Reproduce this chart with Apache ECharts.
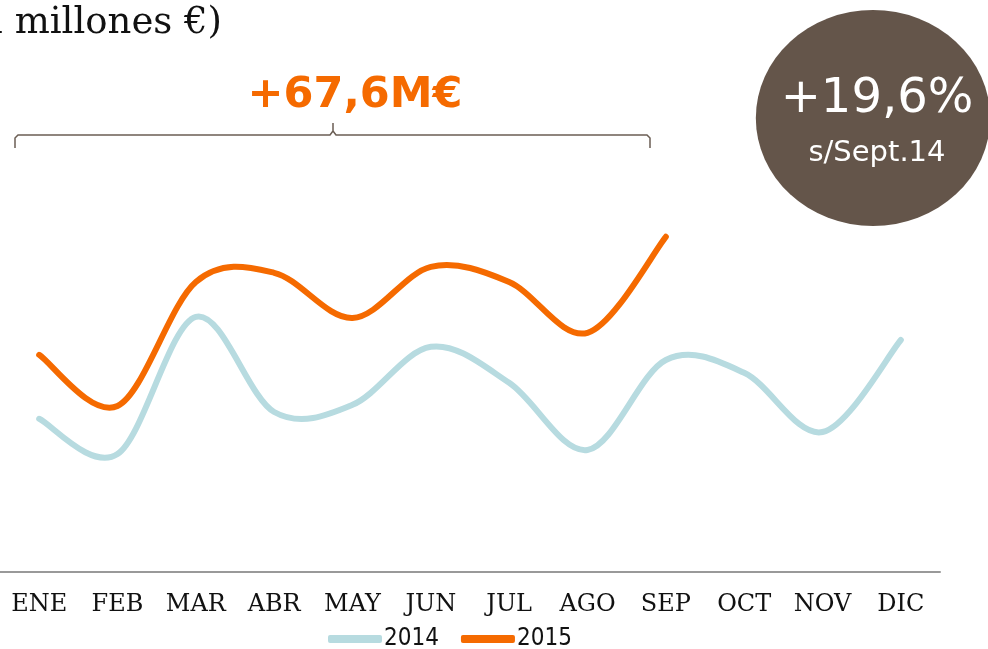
<!DOCTYPE html>
<html>
<head>
<meta charset="utf-8">
<script src="https://cdn.jsdelivr.net/npm/echarts@6/dist/echarts.min.js"></script>
<style>
  html, body { margin: 0; padding: 0; background: #fff; }
  #chart { width: 988px; height: 649px; }
</style>
</head>
<body>
<div id="chart"></div>
<script>
// months and monthly figures (scale, no axis labels shown)
const months = ['ENE', 'FEB', 'MAR', 'ABR', 'MAY', 'JUN', 'JUL', 'AGO', 'SEP', 'OCT', 'NOV', 'DIC'];
const seriesNames = ['2014', '2015'];
const values2014 = [38.3, 29.5, 63.8, 40.0, 41.8, 56.3, 47.3, 30.5, 53.0, 49.8, 35.0, 58.0];
const values2015 = [54.3, 41.5, 72.5, 74.8, 63.5, 76.3, 72.5, 59.8, 83.8];
const colors = ['#B7DBE0', '#F56A00'];

const chart = echarts.init(document.getElementById('chart'));

// excel-like smoothing (catmull-rom -> bezier), drawn once from the axis coords
let _smoothLine = function(values, color){
    return function(params, api){
        if (params.dataIndex !== 0) return null;
        let pts = values.map((v, i) => api.coord([i, v]));
        let d = 'M' + pts[0][0] + ' ' + pts[0][1];
        for (let i = 0; i < pts.length - 1; i++){
            let p0 = pts[Math.max(i - 1, 0)];
            let p1 = pts[i];
            let p2 = pts[i + 1];
            let p3 = pts[Math.min(i + 2, pts.length - 1)];
            let c1x = p1[0] + (p2[0] - p0[0]) / 6;
            let c1y = p1[1] + (p2[1] - p0[1]) / 6;
            let c2x = p2[0] - (p3[0] - p1[0]) / 6;
            let c2y = p2[1] - (p3[1] - p1[1]) / 6;
            d += ' C' + c1x + ' ' + c1y + ' ' + c2x + ' ' + c2y + ' ' + p2[0] + ' ' + p2[1];
        }
        return {
            type: 'path',
            shape: { pathData: d },
            style: { stroke: color, lineWidth: 6, fill: null, lineCap: 'round', lineJoin: 'round' }
        };
    };
};

let option = {
    animation: false,
    grid: { left: 0, right: 48, top: 172, bottom: 77, containLabel: false },
    xAxis: {
        type: 'category',
        data: months,
        boundaryGap: true,
        axisLine: { lineStyle: { color: '#999', width: 2 } },
        axisTick: { show: false },
        axisLabel: {
            color: '#111',
            fontFamily: 'DejaVu Serif',
            fontSize: 24,
            margin: 21
        }
    },
    yAxis: {
        type: 'value',
        min: 0,
        max: 100,
        show: false,
        splitLine: { show: false }
    },
    legend: {
        data: seriesNames,
        top: 622,
        left: 323,
        icon: 'roundRect',
        itemWidth: 54,
        itemHeight: 8,
        itemGap: 22,
        textStyle: {
            fontFamily: '"DejaVu Sans Condensed", "Liberation Sans Narrow", sans-serif',
            fontSize: 24,
            color: '#111',
            padding: [0, 0, 0, -3]
        }
    },
    series: [
        {
            name: seriesNames[0],
            type: 'custom',
            data: values2014.map((v, i) => [i, v]),
            encode: { x: 0, y: 1 },
            itemStyle: { color: colors[0] },
            renderItem: _smoothLine(values2014, colors[0])
        },
        {
            name: seriesNames[1],
            type: 'custom',
            data: values2015.map((v, i) => [i, v]),
            encode: { x: 0, y: 1 },
            itemStyle: { color: colors[1] },
            renderItem: _smoothLine(values2015, colors[1])
        }
    ],
    graphic: [
        {
            type: 'text',
            x: 222, y: 23,
            style: {
                text: '(en millones €)',
                align: 'right',
                verticalAlign: 'middle',
                fill: '#111',
                font: '37px "DejaVu Serif"'
            }
        },
        {
            type: 'text',
            x: 355, y: 96,
            style: {
                text: '+67,6M€',
                align: 'center',
                verticalAlign: 'middle',
                fill: '#F56A00',
                font: 'bold 43px "DejaVu Sans"'
            }
        },
        // bracket over ENE..SEP
        {
            type: 'polyline',
            shape: { points: [[15, 148], [15, 138], [18, 135], [330, 135], [333, 131], [333, 123]] },
            style: { stroke: '#6B5E54', lineWidth: 1.5, fill: null }
        },
        {
            type: 'polyline',
            shape: { points: [[333, 131], [336, 135], [647, 135], [650, 138], [650, 148]] },
            style: { stroke: '#6B5E54', lineWidth: 1.5, fill: null }
        },
        {
            type: 'circle',
            x: 873, y: 118,
            scaleX: 1.085,
            shape: { cx: 0, cy: 0, r: 108 },
            style: { fill: '#64554A' }
        },
        {
            type: 'text',
            x: 877, y: 100,
            style: {
                text: '+19,6%',
                align: 'center',
                verticalAlign: 'middle',
                fill: '#fff',
                font: '48px "DejaVu Sans"'
            }
        },
        {
            type: 'text',
            x: 877, y: 153,
            style: {
                text: 's/Sept.14',
                align: 'center',
                verticalAlign: 'middle',
                fill: '#fff',
                font: '29px "DejaVu Sans"'
            }
        }
    ]
};

chart.setOption(option);
</script>
</body>
</html>
